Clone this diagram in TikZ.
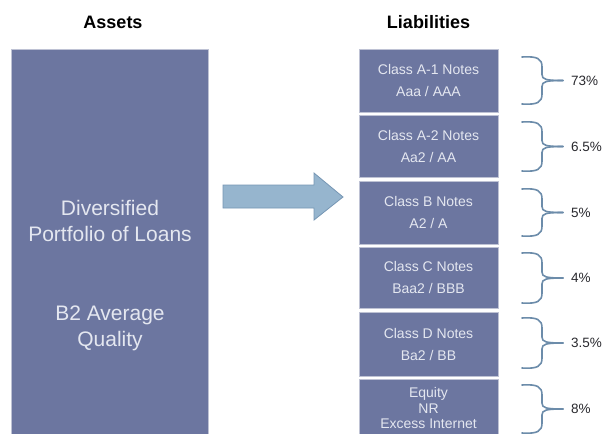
\documentclass[tikz,border=0pt]{standalone}
\usepackage{fontspec}
\setmainfont{Liberation Sans}
\definecolor{boxblue}{RGB}{108,118,160}
\definecolor{boxedge}{RGB}{190,194,212}
\definecolor{boxtext}{RGB}{228,231,240}
\definecolor{arrowfill}{RGB}{150,181,206}
\definecolor{arrowedge}{RGB}{118,150,180}
\definecolor{bracecol}{RGB}{108,140,170}
\definecolor{labcol}{RGB}{40,40,45}
\newcommand\mybrace[2]{%
  \pgfmathsetmacro\bm{(#1+#2)/2}%
  \draw[bracestyle] (522,#1) .. controls (538,#1-1) and (542,#1+2) .. (542,#1+10)
    -- (542,\bm-6) .. controls (542,\bm-1) and (546,\bm) .. (563,\bm);
  \draw[bracestyle] (522,#2) .. controls (538,#2+1) and (542,#2-2) .. (542,#2-10)
    -- (542,\bm+6) .. controls (542,\bm+1) and (546,\bm) .. (563,\bm);
}
\begin{document}
\begin{tikzpicture}[x=1pt,y=-1pt,
  title/.style={font=\fontsize{18}{20}\selectfont\bfseries, text=black},
  assetbox/.style={fill=boxblue, draw=boxedge, line width=0.8pt},
  assettext/.style={font=\fontsize{21}{26}\selectfont, text=boxtext, align=center},
  libbox/.style={fill=boxblue, draw=boxedge, line width=0.8pt, minimum width=139pt,
    inner sep=0pt, text=boxtext, align=center, font=\fontsize{14}{22}\selectfont},
  pct/.style={font=\fontsize{13.5}{14}\selectfont, text=labcol, anchor=west, inner sep=0pt},
  bracestyle/.style={draw=bracecol, line width=1.6pt, line cap=round},
  bigarrow/.style={fill=arrowfill, draw=arrowedge, line width=0.8pt, line join=miter}
]
\useasboundingbox (0,0) rectangle (603,434);
\fill[white] (0,0) rectangle (603,434);

\node[title] (tassets) at (113,22) {Assets};
\node[title] (tliab) at (428.5,22) {Liabilities};

\node[assetbox, minimum width=197pt, minimum height=392pt, inner sep=0pt] (assets) at (109.5,245) {};
\node[assettext] (atext1) at (110,220.5) {Diversified\\Portfolio of Loans};
\node[assettext] (atext2) at (110,328.5) {B2 Average\\Quality};

\draw[bigarrow] (223,185) -- (314,185) -- (314,173) -- (343,197) -- (314,220) -- (314,208) -- (223,208) -- cycle;

\node[libbox, minimum height=63pt] (l1) at (428.5,80.5) {Class A-1 Notes\\Aaa / AAA};
\node[libbox, minimum height=62pt] (l2) at (428.5,146) {Class A-2 Notes\\Aa2 / AA};
\node[libbox, minimum height=63pt] (l3) at (428.5,212.5) {Class B Notes\\A2 / A};
\node[libbox, minimum height=61pt] (l4) at (428.5,277.5) {Class C Notes\\Baa2 / BBB};
\node[libbox, minimum height=64pt] (l5) at (428.5,344) {Class D Notes\\Ba2 / BB};
\node[libbox, minimum height=58pt, font=\fontsize{14}{15.5}\selectfont] (l6) at (428.5,408) {Equity\\NR\\Excess Internet};

\mybrace{57}{104}
\mybrace{122}{171}
\mybrace{189}{236}
\mybrace{253}{303}
\mybrace{318}{368}
\mybrace{385}{433}

\node[pct] (p1) at (571,81) {73\%};
\node[pct] (p2) at (571,146.5) {6.5\%};
\node[pct] (p3) at (571,212.5) {5\%};
\node[pct] (p4) at (571,278) {4\%};
\node[pct] (p5) at (571,343) {3.5\%};
\node[pct] (p6) at (571,409) {8\%};
\end{tikzpicture}
\end{document}
